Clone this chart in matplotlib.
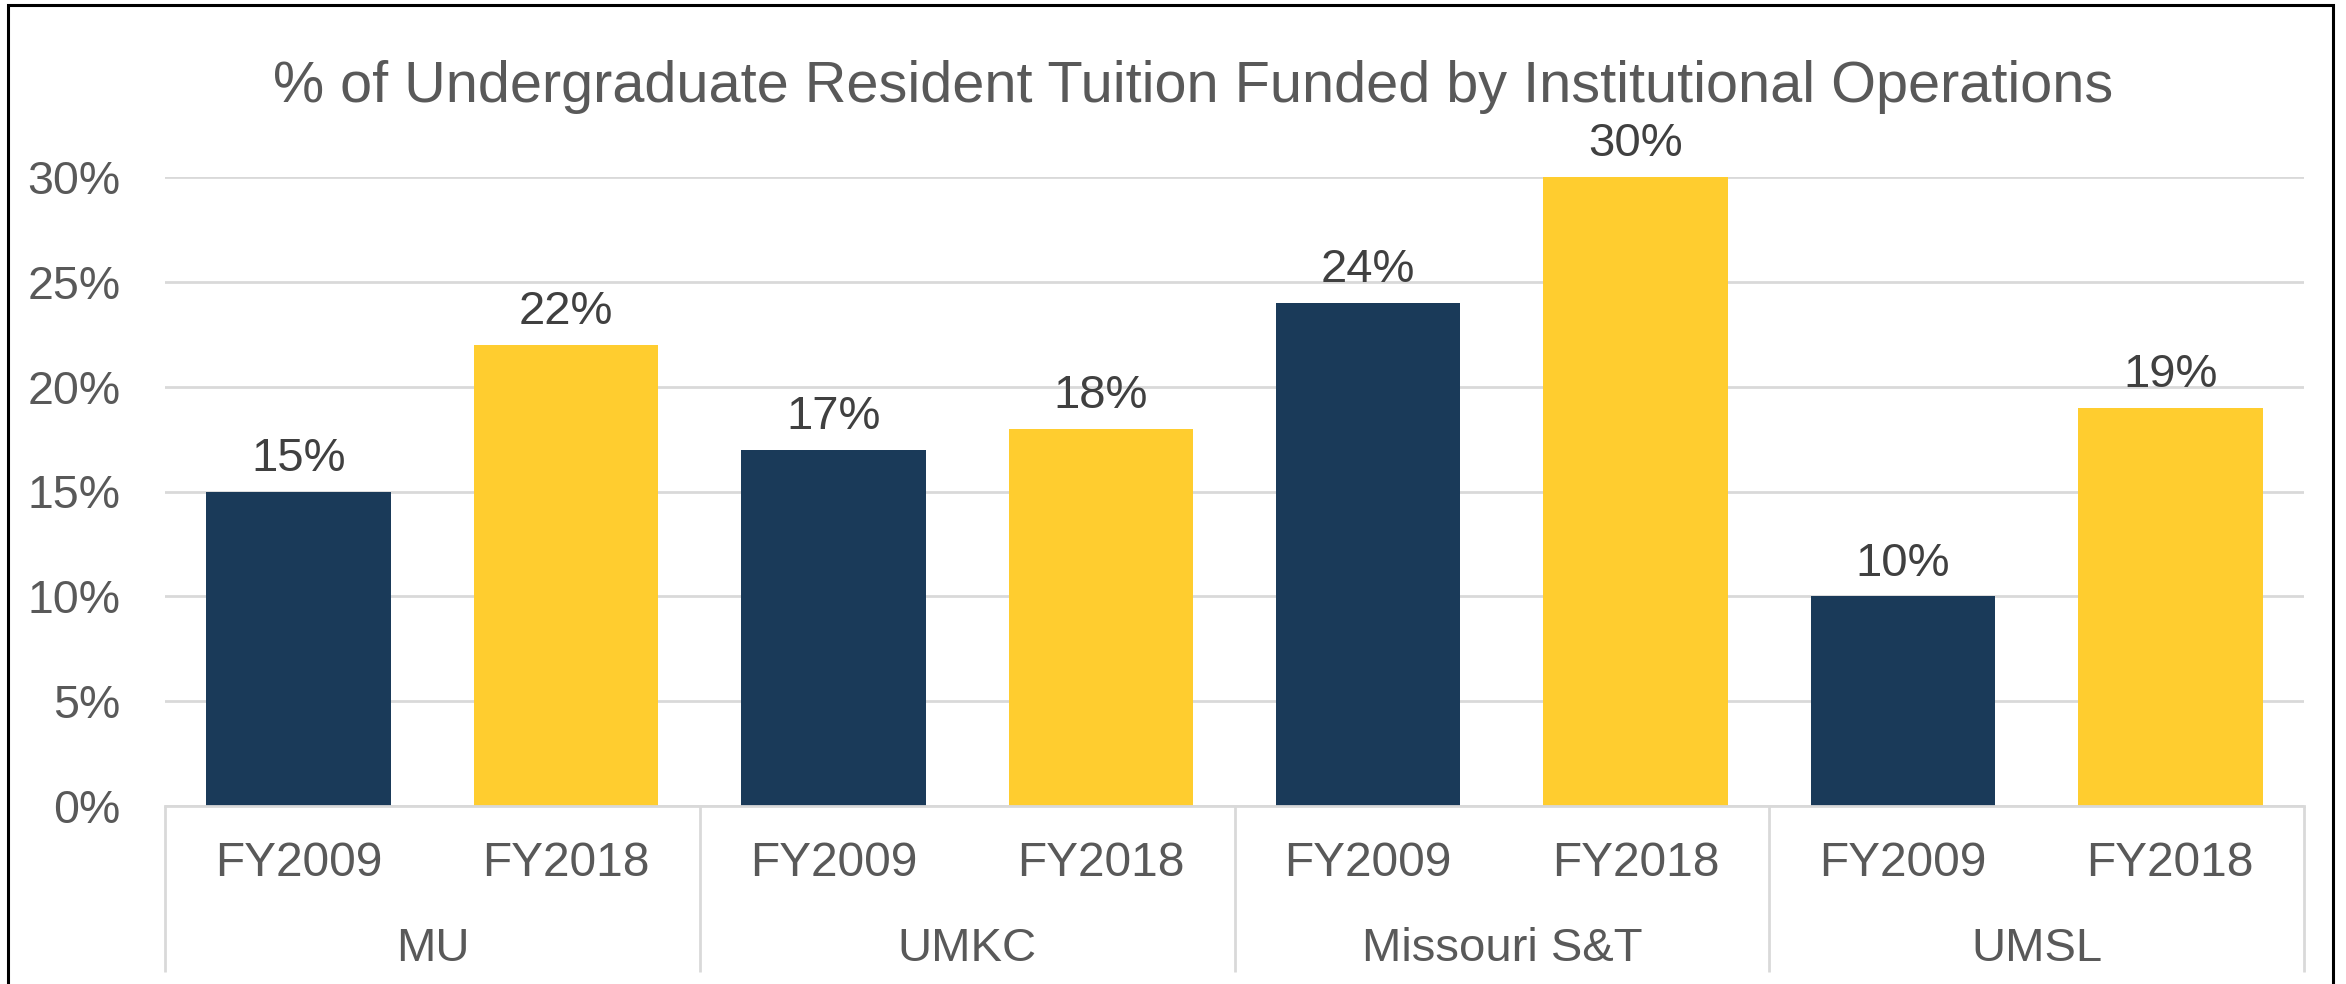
import matplotlib
matplotlib.use('Agg')
import matplotlib.pyplot as plt
import matplotlib.transforms as mtransforms
from matplotlib.patches import Rectangle
import numpy as np

plt.rcParams['font.family'] = ['Liberation Sans', 'DejaVu Sans']

# data
groups = ['MU', 'UMKC', 'Missouri S&T', 'UMSL']
years = ['FY2009', 'FY2018']
fy2009 = [15, 17, 24, 10]
fy2018 = [22, 18, 30, 19]
yticks = [0, 5, 10, 15, 20, 25, 30]

navy = '#1A3A59'
gold = '#FFCD2F'
grey_txt = '#595959'
grid_c = '#D9D9D9'

W, H, DPI = 2346, 984, 100
fig = plt.figure(figsize=(W / DPI, H / DPI), dpi=DPI)
ax = fig.add_axes([165 / W, 1 - 806 / H, (2304 - 165) / W, (806 - 177) / H])

# interleave values: group0 FY2009, group0 FY2018, ...
vals = []
cols = []
for a, b in zip(fy2009, fy2018):
    vals += [a, b]
    cols += [navy, gold]
x = np.arange(len(vals))

bars = ax.bar(x, vals, width=0.69, color=cols, zorder=3)
for xi, v in zip(x, vals):
    ax.annotate(f'{v}%', (xi, v), xytext=(0, 15), textcoords='offset points',
                ha='center', va='baseline', fontsize=34, color='#404040')

ax.set_xlim(-0.5, len(vals) - 0.5)
ax.set_ylim(0, 30)
ax.set_yticks(yticks)
ax.set_yticklabels([f'{t}%' for t in yticks])
ax.tick_params(axis='y', length=0, pad=32, labelsize=33.5, labelcolor=grey_txt)
ax.set_xticks([])
ax.grid(axis='y', color=grid_c, linewidth=2, zorder=0)
for s in ['top', 'right', 'left']:
    ax.spines[s].set_visible(False)
ax.spines['bottom'].set_color(grid_c)
ax.spines['bottom'].set_linewidth(2)
ax.spines['bottom'].set_zorder(4)

# multi level category axis
trans = mtransforms.blended_transform_factory(ax.transData, ax.transAxes)
for xi in x:
    ax.text(xi, -0.1113, years[xi % 2], transform=trans, ha='center', va='baseline',
            fontsize=34.5, color=grey_txt)
for i, g in enumerate(groups):
    ax.text(2 * i + 0.5, -0.2464, g, transform=trans, ha='center', va='baseline',
            fontsize=34, color=grey_txt)
for b in np.arange(-0.5, len(vals), 2):
    ax.plot([b, b], [0, -0.264], transform=trans, color=grid_c, linewidth=2,
            clip_on=False, solid_capstyle='butt')

fig.text(1193 / W, 1 - 102 / H, '% of Undergraduate Resident Tuition Funded by Institutional Operations',
         ha='center', va='baseline', fontsize=41.5, color=grey_txt)

# outer border
fig.patches.append(Rectangle((8 / W, -0.05), (2333 - 8) / W, 1.05 - 5 / H, transform=fig.transFigure,
                             fill=False, edgecolor='black', linewidth=2.2))

fig.savefig('out.png', dpi=DPI, facecolor='white')
